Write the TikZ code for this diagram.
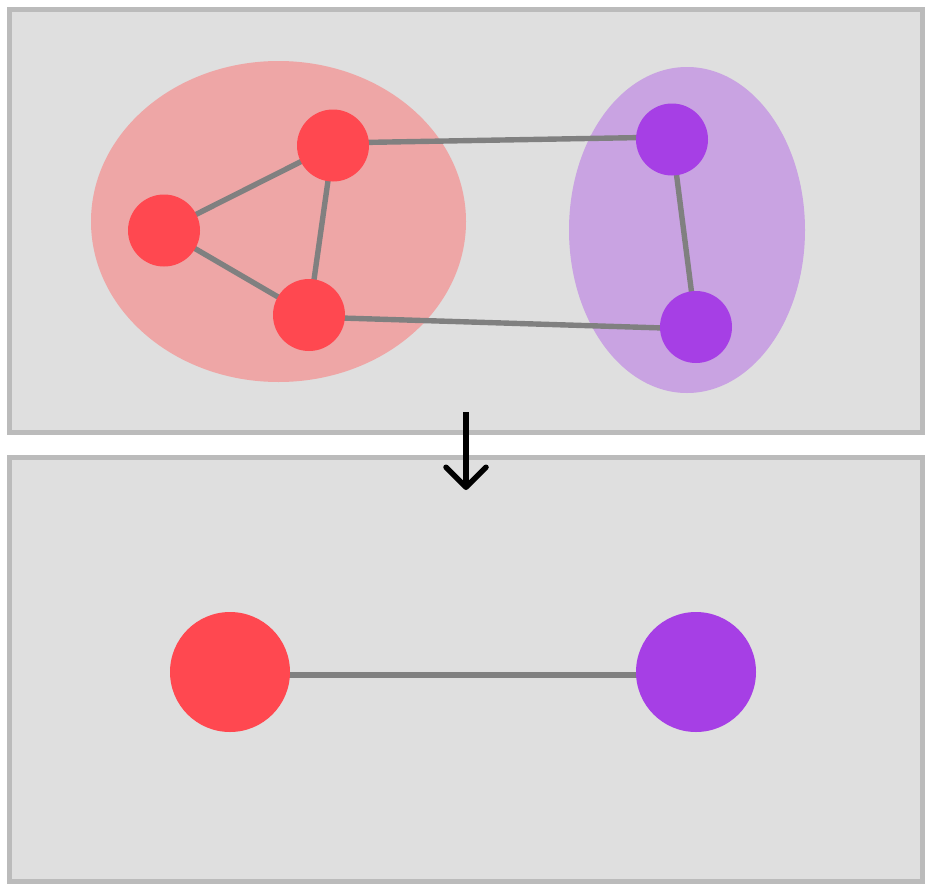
\documentclass[tikz,border=0pt]{standalone}
\usetikzlibrary{arrows.meta,shapes.geometric}
\definecolor{panelfill}{HTML}{DFDFDF}
\definecolor{panelline}{HTML}{BBBBBB}
\definecolor{rednode}{HTML}{FF4850}
\definecolor{redgroup}{HTML}{EEA6A6}
\definecolor{purnode}{HTML}{A63FE5}
\definecolor{purgroup}{HTML}{C9A3E2}
\definecolor{edgecol}{HTML}{808080}
\pgfdeclarelayer{groups}
\pgfdeclarelayer{edges}
\pgfsetlayers{groups,edges,main}
\tikzset{
  panel/.style={fill=panelfill, draw=panelline, line width=5pt},
  group/.style={ellipse, draw=none, inner sep=0pt},
  smallnode/.style={circle, draw=none, minimum size=72pt, inner sep=0pt},
  bignode/.style={circle, draw=none, minimum size=120pt, inner sep=0pt},
  link/.style={draw=edgecol, line width=5.4pt},
}
\begin{document}
\begin{tikzpicture}[x=1pt, y=-1pt]
\useasboundingbox (0,0) rectangle (934,894);
\begin{pgfonlayer}{groups}
\fill[white] (0,0) rectangle (934,894);
\draw[panel] (9.5,9.5) rectangle (922.5,432.5);
\draw[panel] (9.5,457) rectangle (922.5,881);
\node[group, fill=redgroup, minimum width=375pt, minimum height=321pt] (gr) at (278.5,221.5) {};
\node[group, fill=purgroup, minimum width=236pt, minimum height=326pt] (gp) at (687,230) {};
\end{pgfonlayer}
% nodes
\node[smallnode, fill=rednode] (r1) at (333,145.5) {};
\node[smallnode, fill=rednode] (r2) at (164,230.5) {};
\node[smallnode, fill=rednode] (r3) at (309,315) {};
\node[smallnode, fill=purnode] (p1) at (672,139.5) {};
\node[smallnode, fill=purnode] (p2) at (696,327) {};
\node[bignode, fill=rednode] (R) at (230,672) {};
\node[bignode, fill=purnode] (P) at (696,672) {};
% edges
\begin{pgfonlayer}{edges}
\path[link] (r1.center) -- (r2.center);
\path[link] (r2.center) -- (r3.center);
\path[link] (r1.center) -- (r3.center);
\path[link] ([yshift=2.5pt]r1.center) -- ([yshift=2.5pt]p1.center);
\path[link] ([yshift=-2pt]r3.center) -- ([yshift=-2pt]p2.center);
\path[link] (p1.center) -- (p2.center);
\path[link] ([yshift=-3pt]R.center) -- ([yshift=-3pt]P.center);
\end{pgfonlayer}
% arrow
\coordinate (a1) at (466,412);
\coordinate (a2) at (466,490);
\draw[line width=5.5pt, -{Straight Barb[length=20pt, width=40pt, line cap=round, line join=round]}] (a1) -- (a2);
\end{tikzpicture}
\end{document}
